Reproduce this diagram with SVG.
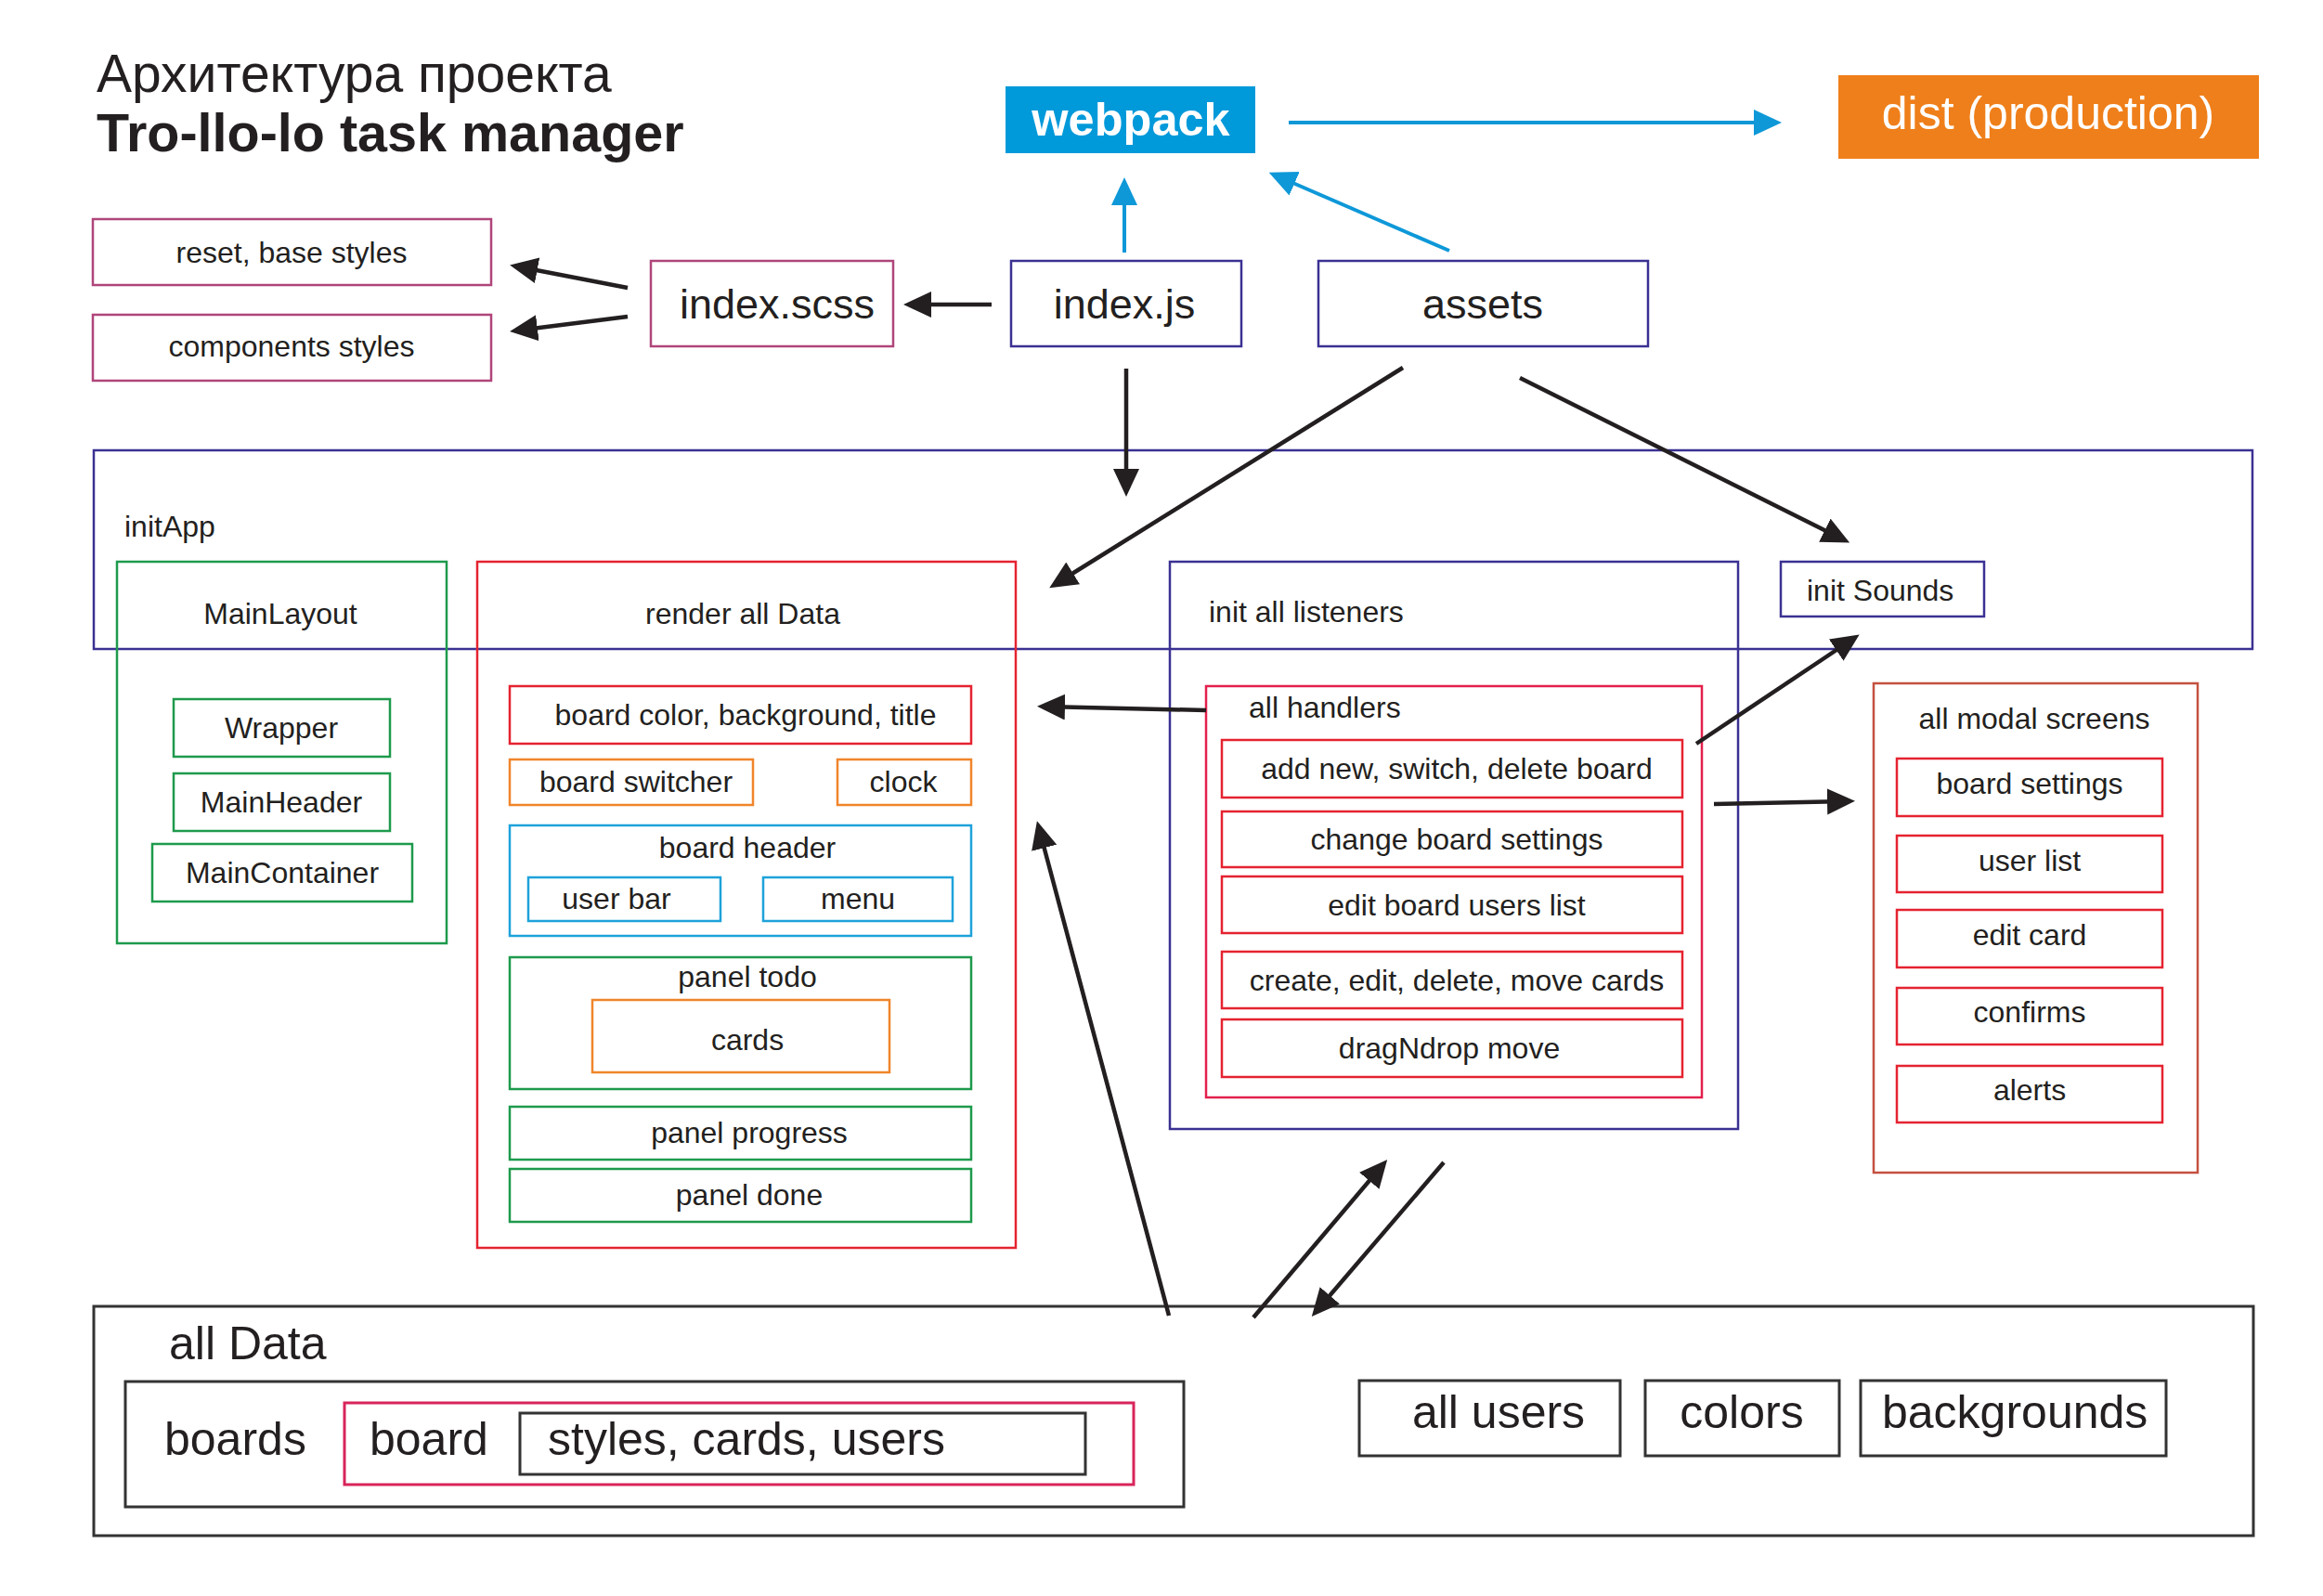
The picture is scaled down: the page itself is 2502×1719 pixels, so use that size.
<svg xmlns="http://www.w3.org/2000/svg" width="2502" height="1719" viewBox="0 0 2502 1719">
<defs>
<style>
text{font-family:"Liberation Sans",Arial,sans-serif;fill:#231f20}
.t32{font-size:32px}
.t45{font-size:45px}
.t50{font-size:50px}
.c{text-anchor:middle}
rect{fill:none;stroke-width:2.5}
.ind{stroke:#3b3192}
.mau{stroke:#b0457a}
.grn{stroke:#1e9a4c}
.red{stroke:#e52330}
.org{stroke:#f0852b}
.blu{stroke:#1ea2da}
.hnd{stroke:#e3204c}
.mod{stroke:#c4503f}
.blk{stroke:#333333;stroke-width:3}
.pnk{stroke:#d8245a;stroke-width:3}
.ab{stroke:#231f20;stroke-width:4.5;fill:none}
.bb{stroke:#0e98d8;stroke-width:4;fill:none}
</style>
<marker id="mk" markerUnits="userSpaceOnUse" markerWidth="32" markerHeight="30" refX="22" refY="14" orient="auto">
<path d="M0,0 L30,14 L0,28 z" fill="#231f20"/>
</marker>
<marker id="mb" markerUnits="userSpaceOnUse" markerWidth="32" markerHeight="30" refX="22" refY="14" orient="auto">
<path d="M0,0 L30,14 L0,28 z" fill="#0e98d8"/>
</marker>
</defs>
<rect x="0" y="0" width="2502" height="1719" style="stroke:none;fill:#ffffff"/>

<g id="title">
<text x="104" y="99" style="font-size:57px">Архитектура проекта</text>
<text x="104" y="163" style="font-size:57.5px;font-weight:bold">Tro-llo-lo task manager</text>
</g>

<g id="webpack">
<rect x="1083" y="93" width="269" height="72" style="fill:#0099da;stroke:none"/>
<text x="1218" y="146" class="c" style="font-size:50.5px;font-weight:bold;fill:#ffffff">webpack</text>
</g>
<g id="dist">
<rect x="1980" y="81" width="453" height="90" style="fill:#ef7f1a;stroke:none"/>
<text x="2206" y="139" class="c" style="font-size:50px;fill:#ffffff">dist (production)</text>
</g>

<g id="reset">
<rect x="100" y="236" width="429" height="71" class="mau"/>
<text x="314" y="283" class="c t32">reset, base styles</text>
</g>
<g id="components">
<rect x="100" y="339" width="429" height="71" class="mau"/>
<text x="314" y="384" class="c t32">components styles</text>
</g>
<g id="indexscss">
<rect x="701" y="281" width="261" height="92" class="mau"/>
<text x="837" y="343" class="c t45">index.scss</text>
</g>
<g id="indexjs">
<rect x="1089" y="281" width="248" height="92" class="ind"/>
<text x="1211" y="343" class="c t45">index.js</text>
</g>
<g id="assets">
<rect x="1420" y="281" width="355" height="92" class="ind"/>
<text x="1597" y="343" class="c t45">assets</text>
</g>

<g id="initApp">
<rect x="101" y="485" width="2325" height="214" class="ind"/>
<text x="134" y="578" class="t32">initApp</text>
</g>

<g id="MainLayout">
<rect x="126" y="605" width="355" height="411" class="grn"/>
<text x="302" y="672" class="c t32">MainLayout</text>
<g id="Wrapper"><rect x="187" y="753" width="233" height="62" class="grn"/><text x="303" y="795" class="c t32">Wrapper</text></g>
<g id="MainHeader"><rect x="187" y="833" width="233" height="62" class="grn"/><text x="303" y="875" class="c t32">MainHeader</text></g>
<g id="MainContainer"><rect x="164" y="909" width="280" height="62" class="grn"/><text x="304" y="951" class="c t32">MainContainer</text></g>
</g>

<g id="renderAllData">
<rect x="514" y="605" width="580" height="739" class="red"/>
<text x="800" y="672" class="c t32">render all Data</text>
<g id="boardColor"><rect x="549" y="739" width="497" height="62" class="red"/><text x="803" y="781" class="c t32">board color, background, title</text></g>
<g id="boardSwitcher"><rect x="549" y="818" width="262" height="49" class="org"/><text x="685" y="853" class="c t32">board switcher</text></g>
<g id="clock"><rect x="902" y="818" width="144" height="49" class="org"/><text x="973" y="853" class="c t32">clock</text></g>
<g id="boardHeader"><rect x="549" y="889" width="497" height="119" class="blu"/><text x="805" y="924" class="c t32">board header</text>
<g id="userBar"><rect x="569" y="945" width="207" height="47" class="blu"/><text x="664" y="979" class="c t32">user bar</text></g>
<g id="menu"><rect x="822" y="945" width="204" height="47" class="blu"/><text x="924" y="979" class="c t32">menu</text></g>
</g>
<g id="panelTodo"><rect x="549" y="1031" width="497" height="142" class="grn"/><text x="805" y="1063" class="c t32">panel todo</text>
<g id="cards"><rect x="638" y="1077" width="320" height="78" class="org"/><text x="805" y="1131" class="c t32">cards</text></g>
</g>
<g id="panelProgress"><rect x="549" y="1192" width="497" height="57" class="grn"/><text x="807" y="1231" class="c t32">panel progress</text></g>
<g id="panelDone"><rect x="549" y="1259" width="497" height="57" class="grn"/><text x="807" y="1298" class="c t32">panel done</text></g>
</g>

<g id="initListeners">
<rect x="1260" y="605" width="612" height="611" class="ind"/>
<text x="1302" y="670" class="t32">init all listeners</text>
<g id="allHandlers">
<rect x="1299" y="739" width="534" height="443" class="hnd"/>
<text x="1345" y="773" class="t32">all handlers</text>
<g id="h1"><rect x="1316" y="797" width="496" height="62" class="red"/><text x="1569" y="839" class="c t32">add new, switch, delete board</text></g>
<g id="h2"><rect x="1316" y="874" width="496" height="60" class="red"/><text x="1569" y="915" class="c t32">change board settings</text></g>
<g id="h3"><rect x="1316" y="944" width="496" height="61" class="red"/><text x="1569" y="986" class="c t32">edit board users list</text></g>
<g id="h4"><rect x="1316" y="1025" width="496" height="61" class="red"/><text x="1569" y="1067" class="c t32">create, edit, delete, move cards</text></g>
<g id="h5"><rect x="1316" y="1098" width="496" height="62" class="red"/><text x="1561" y="1140" class="c t32">dragNdrop move</text></g>
</g>
</g>

<g id="initSounds">
<rect x="1918" y="605" width="219" height="59" class="ind"/>
<text x="1946" y="647" class="t32">init Sounds</text>
</g>

<g id="modalScreens">
<rect x="2018" y="736" width="349" height="527" class="mod"/>
<text x="2191" y="785" class="c t32">all modal screens</text>
<g id="m1"><rect x="2043" y="817" width="286" height="62" class="red"/><text x="2186" y="855" class="c t32">board settings</text></g>
<g id="m2"><rect x="2043" y="900" width="286" height="61" class="red"/><text x="2186" y="938" class="c t32">user list</text></g>
<g id="m3"><rect x="2043" y="980" width="286" height="62" class="red"/><text x="2186" y="1018" class="c t32">edit card</text></g>
<g id="m4"><rect x="2043" y="1064" width="286" height="61" class="red"/><text x="2186" y="1101" class="c t32">confirms</text></g>
<g id="m5"><rect x="2043" y="1148" width="286" height="61" class="red"/><text x="2186" y="1185" class="c t32">alerts</text></g>
</g>

<g id="allData">
<rect x="101" y="1407" width="2326" height="247" class="blk"/>
<text x="182" y="1464" class="t50">all Data</text>
<g id="boards">
<rect x="135" y="1488" width="1140" height="135" class="blk"/>
<text x="177" y="1567" class="t50">boards</text>
<g id="board">
<rect x="371" y="1511" width="850" height="88" class="pnk"/>
<text x="398" y="1567" class="t50">board</text>
<g id="boardContent">
<rect x="560" y="1522" width="609" height="66" class="blk"/>
<text x="590" y="1567" class="t50">styles, cards, users</text>
</g>
</g>
</g>
<g id="allUsers"><rect x="1464" y="1487" width="281" height="81" class="blk"/><text x="1614" y="1538" class="c t50">all users</text></g>
<g id="colors"><rect x="1772" y="1487" width="209" height="81" class="blk"/><text x="1876" y="1538" class="c t50">colors</text></g>
<g id="backgrounds"><rect x="2004" y="1487" width="329" height="81" class="blk"/><text x="2027" y="1538" class="t50">backgrounds</text></g>
</g>

<g id="connectors">
<path class="bb" d="M1388,132 L1911,132" marker-end="url(#mb)"/>
<path class="bb" d="M1211,272 L1211,199" marker-end="url(#mb)"/>
<path class="bb" d="M1561,270 L1374,189" marker-end="url(#mb)"/>
<path class="ab" d="M1068,328 L981,328" marker-end="url(#mk)"/>
<path class="ab" d="M676,310 L557,287" marker-end="url(#mk)"/>
<path class="ab" d="M676,341 L557,356" marker-end="url(#mk)"/>
<path class="ab" d="M1213,397 L1213,527" marker-end="url(#mk)"/>
<path class="ab" d="M1511,396 L1137,629" marker-end="url(#mk)"/>
<path class="ab" d="M1637,407 L1985,581" marker-end="url(#mk)"/>
<path class="ab" d="M1299,765 L1125,761" marker-end="url(#mk)"/>
<path class="ab" d="M1827,801 L1996,688" marker-end="url(#mk)"/>
<path class="ab" d="M1846,866 L1990,863" marker-end="url(#mk)"/>
<path class="ab" d="M1259,1417 L1119,892" marker-end="url(#mk)"/>
<path class="ab" d="M1350,1419 L1489,1255" marker-end="url(#mk)"/>
<path class="ab" d="M1555,1252 L1418,1412" marker-end="url(#mk)"/>
</g>
</svg>
